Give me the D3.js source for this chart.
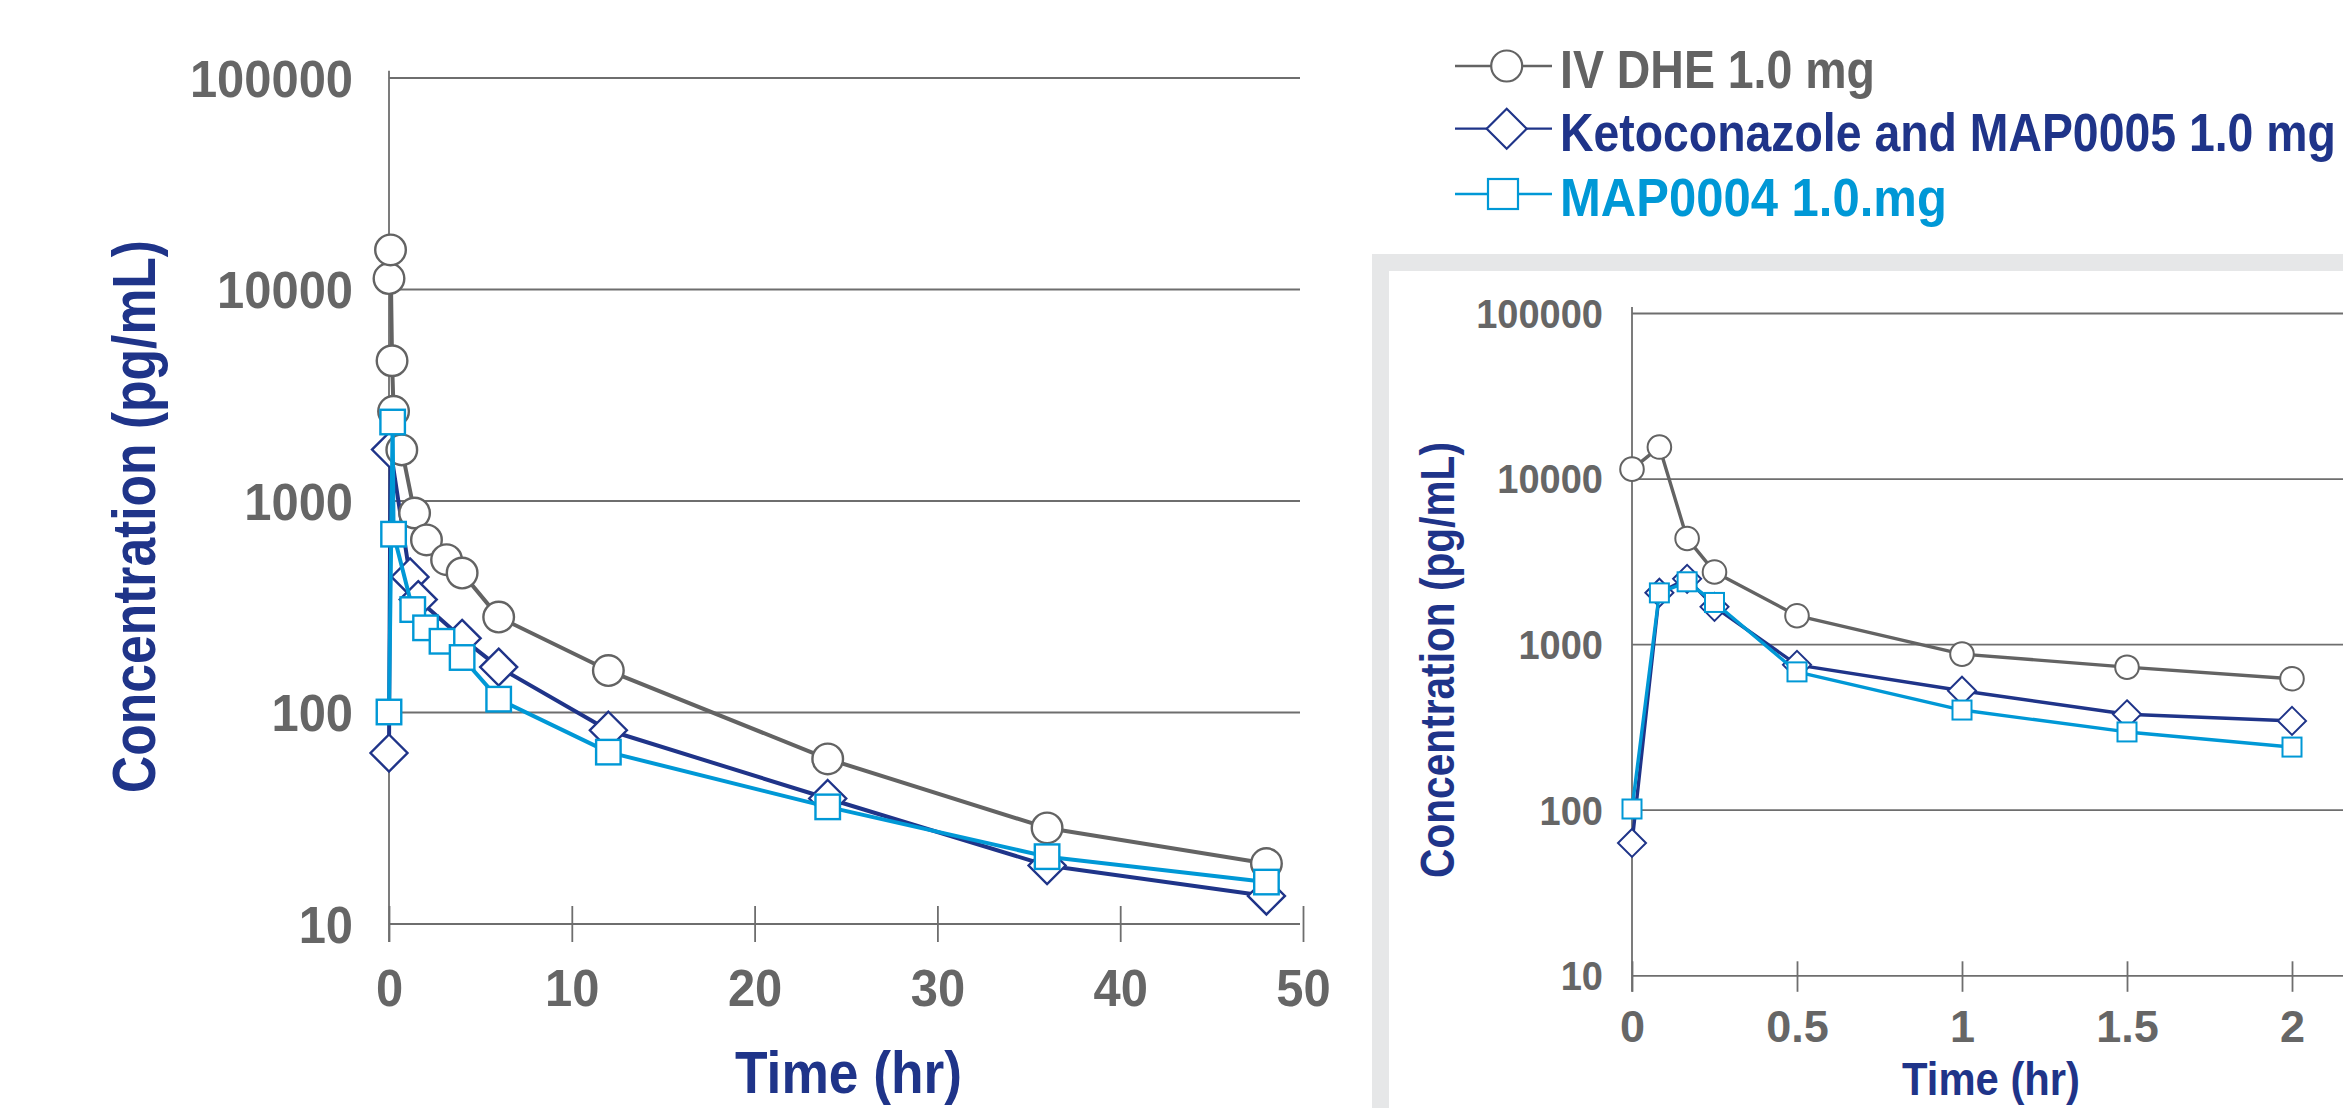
<!DOCTYPE html>
<html><head><meta charset="utf-8">
<script src="https://cdn.jsdelivr.net/npm/d3@7"></script>
<style>html,body{margin:0;padding:0;background:#fff;overflow:hidden}</style>
</head><body>
<svg id="chart" width="2343" height="1108" xmlns="http://www.w3.org/2000/svg"></svg>
<script>
// ---------- DATA ----------
const seriesNames = ["IV DHE 1.0 mg", "Ketoconazole and MAP0005 1.0 mg", "MAP0004 1.0.mg"];
const yTickValues = [10, 100, 1000, 10000, 100000];
const yTickLabels = ["10", "100", "1000", "10000", "100000"];
const mainXTicks = [0, 10, 20, 30, 40, 50];
const mainXLabels = ["0", "10", "20", "30", "40", "50"];
const insetXTicks = [0, 0.5, 1, 1.5, 2];
const insetXLabels = ["0", "0.5", "1", "1.5", "2"];
const yTitle = "Concentration (pg/mL)";
const xTitle = "Time (hr)";

// main panel (0-48 hr)
const mainIvTime   = [0, 0.083, 0.167, 0.25, 0.7, 1.4, 2.05, 3.15, 4, 6, 12, 24, 36, 48];
const mainIvConc   = [11200, 15300, 4580, 2640, 1735, 873, 651, 525, 454, 281, 157, 60, 28.3, 19.2];
const mainKetoTime = [0, 0.083, 1.15, 1.6, 4, 6, 12, 24, 36, 48];
const mainKetoConc = [64, 1740, 435, 340, 223, 163, 82, 39, 18.8, 13.5];
const mainMapTime  = [0, 0.2, 0.25, 1.3, 2, 2.9, 4, 6, 12, 24, 36, 48];
const mainMapConc  = [100, 2350, 693, 305, 250, 216, 181, 115, 64.6, 35.6, 20.7, 15.7];

// inset panel (0-2 hr)
const insetTime     = [0, 0.083, 0.167, 0.25, 0.5, 1, 1.5, 2];
const insetIvConc   = [11400, 15500, 4350, 2730, 1485, 871, 726, 618];
const insetKetoConc = [63, 2045, 2480, 1680, 750, 523, 377, 344];
const insetMapConc  = [101, 2040, 2380, 1786, 680, 400, 295, 239];

// ---------- STYLE ----------
const C = { gray: "#636363", navy: "#1f3489", cyan: "#0098d6", grid: "#6e6e6e", tick: "#666666", band: "#e6e7e8" };
const FONT = "'Liberation Sans', Arial, Helvetica, sans-serif";
const svg = d3.select("#chart");

function zip(t, c) { return t.map((d, i) => ({ t: d, c: c[i] })); }

function marker(g, type, x, y, s, color, sw) {
  if (type === "circle") {
    g.append("circle").attr("cx", x).attr("cy", y).attr("r", s.r)
      .attr("fill", "#fff").attr("stroke", color).attr("stroke-width", sw);
  } else if (type === "square") {
    g.append("rect").attr("x", x - s.sq / 2).attr("y", y - s.sq / 2).attr("width", s.sq).attr("height", s.sq)
      .attr("fill", "#fff").attr("stroke", color).attr("stroke-width", sw);
  } else {
    const h = s.dh;
    g.append("path").attr("d", `M${x},${y - h}L${x + h},${y}L${x},${y + h}L${x - h},${y}Z`)
      .attr("fill", "#fff").attr("stroke", color).attr("stroke-width", sw);
  }
}

function fitText(sel, target) {
  const w = sel.node().getComputedTextLength();
  return w > 0 ? target / w : 1;
}

function panel(cfg) {
  const x = d3.scaleLinear().domain(cfg.xDomain).range(cfg.xRange);
  const y = d3.scaleLog().domain([10, 100000]).range(cfg.yRange);
  const g = svg.append("g");

  const yAxis = d3.axisLeft(y).tickValues(yTickValues)
    .tickFormat((d, i) => yTickLabels[i])
    .tickSize(-(cfg.gridRight - cfg.xRange[0])).tickPadding(0);
  const ya = g.append("g").attr("transform", `translate(${cfg.xRange[0]},0)`).call(yAxis);
  ya.select(".domain").remove();
  ya.selectAll(".tick line").attr("stroke", C.grid).attr("stroke-width", 1.8);
  ya.selectAll(".tick text")
    .attr("x", 0).attr("dy", "0.36em")
    .attr("transform", `translate(${cfg.yLabelOffset},0) scale(${cfg.labelScale},1)`)
    .attr("text-anchor", "end")
    .style("font-family", FONT).style("font-weight", "bold")
    .style("font-size", cfg.labelSize + "px").attr("fill", C.tick);

  g.append("line").attr("x1", cfg.xRange[0]).attr("x2", cfg.xRange[0])
    .attr("y1", cfg.axisTop).attr("y2", cfg.yRange[0] + cfg.tickDown)
    .attr("stroke", C.grid).attr("stroke-width", 1.8);

  const xAxis = d3.axisBottom(x).tickValues(cfg.xTicks)
    .tickFormat((d, i) => cfg.xLabels[i]).tickSizeInner(cfg.tickDown).tickSizeOuter(0);
  const xa = g.append("g").attr("transform", `translate(0,${cfg.yRange[0]})`).call(xAxis);
  xa.select(".domain").remove();
  xa.selectAll(".tick line").attr("y1", -cfg.tickUp).attr("y2", cfg.tickDown)
    .attr("stroke", C.grid).attr("stroke-width", 1.8);
  xa.selectAll(".tick text")
    .attr("y", 0).attr("dy", 0)
    .attr("transform", `translate(0,${cfg.xLabelBase - cfg.yRange[0]}) scale(${cfg.xLabelScale},1)`)
    .attr("text-anchor", "middle")
    .style("font-family", FONT).style("font-weight", "bold")
    .style("font-size", cfg.xLabelSize + "px").attr("fill", C.tick);

  const line = d3.line().x(d => x(d.t)).y(d => y(d.c));
  cfg.series.forEach(s => {
    g.append("path").datum(s.data).attr("d", line).attr("fill", "none")
      .attr("stroke", s.color).attr("stroke-width", cfg.lineW).attr("stroke-linejoin", "round");
    const mg = g.append("g");
    s.data.forEach(d => marker(mg, s.type, x(d.t), y(d.c), cfg.mk, s.color, cfg.mkStroke));
  });

  const yt = g.append("text").text(yTitle)
    .attr("text-anchor", "middle")
    .style("font-family", FONT).style("font-weight", "bold")
    .style("font-size", cfg.yTitle.size + "px").attr("fill", C.navy);
  const sy = fitText(yt, cfg.yTitle.len);
  yt.attr("transform", `translate(${cfg.yTitle.x},${cfg.yTitle.y}) rotate(-90) scale(${sy},1)`);

  const xt = g.append("text").text(xTitle)
    .attr("text-anchor", "middle")
    .style("font-family", FONT).style("font-weight", "bold")
    .style("font-size", cfg.xTitle.size + "px").attr("fill", C.navy);
  const sx = fitText(xt, cfg.xTitle.len);
  xt.attr("transform", `translate(${cfg.xTitle.x},${cfg.xTitle.y}) scale(${sx},1)`);
}

// inset background band (L-shaped frame)
svg.append("rect").attr("x", 1372).attr("y", 254).attr("width", 2343 - 1372).attr("height", 17).attr("fill", C.band);
svg.append("rect").attr("x", 1372).attr("y", 254).attr("width", 17).attr("height", 1108 - 254).attr("fill", C.band);

panel({
  xDomain: [0, 50], xRange: [389, 1303], yRange: [923.5, 77.5], gridRight: 1300,
  axisTop: 70.7, tickUp: 17.5, tickDown: 18.5,
  yLabelOffset: -36, labelSize: 52, labelScale: 0.94,
  xLabelSize: 52, xLabelScale: 0.94, xLabelBase: 1006,
  xTicks: mainXTicks, xLabels: mainXLabels,
  lineW: 4, mk: { r: 15.3, sq: 24.5, dh: 18.5 }, mkStroke: 2.4,
  series: [
    { type: "diamond", color: C.navy, data: zip(mainKetoTime, mainKetoConc) },
    { type: "circle", color: C.gray, data: zip(mainIvTime, mainIvConc) },
    { type: "square", color: C.cyan, data: zip(mainMapTime, mainMapConc) }
  ],
  yTitle: { x: 155, y: 516.5, size: 61, len: 553 },
  xTitle: { x: 848.5, y: 1093, size: 60, len: 227 }
});

panel({
  xDomain: [0, 2], xRange: [1632, 2292], yRange: [975.3, 313], gridRight: 2343,
  axisTop: 307, tickUp: 14, tickDown: 16.5,
  yLabelOffset: -29, labelSize: 40, labelScale: 0.95,
  xLabelSize: 45, xLabelScale: 1.0, xLabelBase: 1042,
  xTicks: insetXTicks, xLabels: insetXLabels,
  lineW: 3.4, mk: { r: 11.8, sq: 19, dh: 14 }, mkStroke: 2,
  series: [
    { type: "diamond", color: C.navy, data: zip(insetTime, insetKetoConc) },
    { type: "circle", color: C.gray, data: zip(insetTime, insetIvConc) },
    { type: "square", color: C.cyan, data: zip(insetTime, insetMapConc) }
  ],
  yTitle: { x: 1453.5, y: 660, size: 48, len: 436 },
  xTitle: { x: 1991, y: 1095, size: 46, len: 178 }
});

const legendRows = [
  { name: seriesNames[0], type: "circle", color: C.gray, y: 66, base: 87.7, len: 315 },
  { name: seriesNames[1], type: "diamond", color: C.navy, y: 128.7, base: 151, len: 776 },
  { name: seriesNames[2], type: "square", color: C.cyan, y: 194, base: 216, len: 387 }
];
const lg = svg.append("g");
legendRows.forEach(r => {
  lg.append("line").attr("x1", 1455).attr("x2", 1552).attr("y1", r.y).attr("y2", r.y)
    .attr("stroke", r.color).attr("stroke-width", 2.3);
  marker(lg, r.type, r.type === "square" ? 1503 : 1506.7, r.y, { r: 15.5, sq: 30, dh: 20 }, r.color, 2.2);
  const t = lg.append("text").text(r.name)
    .style("font-family", FONT).style("font-weight", "bold").style("font-size", "53.5px")
    .attr("fill", r.color);
  const s = fitText(t, r.len);
  t.attr("transform", `translate(1560,${r.base}) scale(${s},1)`);
});
</script>
</body></html>
